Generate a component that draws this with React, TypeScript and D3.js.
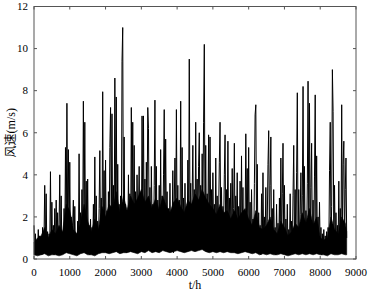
import React from "react";
import * as d3 from "d3";

const xTicks = [0, 1000, 2000, 3000, 4000, 5000, 6000, 7000, 8000, 9000];
const yTicks = [0, 2, 4, 6, 8, 10, 12];
const xLabel = "t/h";
const yLabel = "风速(m/s)";
const stepHours = 20;
const bandStepHours = 100;
const lastHour = 8760;

// wind speed (m/s), one reading every 20 h
const windSpeed = [
  1.6, 0.3, 1.2, 0.2, 0.9, 0.4, 1.4, 0.2, 1.1, 0.3,
  0.8, 0.2, 1.5, 0.4, 1.0, 3.5, 0.6, 3.1, 0.3, 1.3,
  0.2, 1.2, 0.4, 4.15, 0.5, 2.7, 0.3, 1.6, 0.2, 2.4,
  0.3, 2.8, 0.5, 2.2, 0.2, 1.5, 4.0, 0.4, 3.0, 0.3,
  1.2, 0.3, 2.4, 0.6, 5.3, 1.0, 7.4, 1.5, 5.2, 0.8,
  4.6, 0.5, 2.0, 0.3, 1.6, 2.8, 0.4, 2.5, 0.2, 1.2,
  0.3, 1.8, 0.5, 5.0, 0.6, 2.2, 0.3, 3.3, 0.8, 7.5,
  2.0, 6.5, 0.7, 3.7, 0.4, 3.8, 0.3, 1.6, 0.2, 1.9,
  0.4, 1.5, 0.3, 2.6, 0.5, 4.85, 0.6, 3.0, 0.3, 1.8,
  0.5, 2.4, 5.15, 0.7, 2.9, 0.4, 7.95, 1.2, 4.2, 0.5,
  4.7, 0.6, 2.3, 0.3, 3.2, 0.8, 5.3, 7.2, 1.5, 6.9,
  0.6, 3.5, 0.9, 8.6, 2.5, 7.7, 0.8, 4.5, 0.4, 2.6,
  0.5, 3.0, 0.4, 9.4, 11.0, 1.0, 5.8, 0.5, 2.6, 0.3,
  2.3, 0.6, 4.0, 1.2, 3.1, 0.5, 7.2, 2.0, 6.5, 1.0,
  5.4, 0.8, 3.2, 0.4, 4.0, 1.5, 2.4, 4.4, 0.6, 3.0,
  0.7, 6.8, 2.5, 6.8, 1.0, 3.8, 0.5, 4.6, 2.0, 7.2,
  6.2, 0.8, 3.4, 0.5, 4.4, 1.8, 2.6, 0.4, 3.5, 7.55,
  1.5, 4.4, 0.6, 2.8, 1.0, 3.5, 0.4, 5.2, 0.8, 3.0,
  1.2, 4.0, 7.1, 0.9, 5.7, 1.5, 3.2, 0.4, 2.4, 0.7,
  3.6, 0.5, 2.3, 1.2, 4.2, 0.3, 2.7, 4.8, 1.0, 7.1,
  1.5, 3.5, 0.6, 2.8, 1.3, 7.5, 0.8, 5.3, 1.7, 2.9,
  0.4, 3.6, 1.0, 2.2, 0.5, 4.7, 1.2, 9.5, 2.0, 3.6,
  0.7, 2.9, 5.4, 1.1, 3.3, 0.5, 6.5, 1.6, 3.8, 0.6,
  4.4, 6.0, 1.0, 3.5, 0.6, 5.0, 2.2, 6.5, 10.2, 1.4,
  5.4, 0.8, 3.1, 1.6, 5.9, 0.7, 5.8, 2.0, 3.3, 0.5,
  4.1, 1.0, 2.6, 0.4, 4.8, 1.3, 3.0, 0.6, 2.2, 4.6,
  6.5, 1.0, 3.4, 0.5, 2.5, 1.4, 4.0, 5.9, 0.8, 3.3,
  1.2, 5.6, 0.6, 2.9, 1.5, 3.6, 0.4, 4.3, 1.1, 2.4,
  5.5, 0.7, 3.0, 1.3, 4.1, 0.5, 2.5, 1.0, 3.7, 0.6,
  4.9, 1.2, 3.4, 0.4, 2.2, 1.6, 5.95, 2.1, 4.3, 0.5,
  5.3, 0.9, 2.7, 0.4, 3.3, 1.1, 1.9, 0.3, 3.6, 6.85,
  7.33, 1.4, 4.5, 0.3, 2.2, 0.6, 1.6, 0.2, 3.1, 0.5,
  4.1, 0.4, 2.0, 0.8, 3.4, 0.3, 1.8, 4.5, 6.1, 0.9,
  3.5, 5.8, 0.6, 2.4, 0.3, 3.3, 0.5, 1.5, 0.2, 2.6,
  0.4, 1.7, 0.3, 2.9, 0.6, 4.8, 0.4, 3.1, 5.5, 0.8,
  3.5, 0.3, 1.9, 0.5, 2.6, 0.2, 1.4, 0.6, 3.1, 0.3,
  1.8, 0.5, 3.0, 5.4, 0.7, 3.3, 0.4, 4.1, 7.9, 1.0,
  3.3, 0.4, 2.1, 4.1, 0.6, 3.0, 8.2, 1.2, 4.4, 0.5,
  2.3, 0.6, 3.6, 8.45, 1.8, 7.4, 0.7, 3.4, 5.5, 0.5,
  2.8, 0.4, 3.9, 7.8, 0.9, 4.9, 0.3, 2.0, 0.6, 2.7,
  0.3, 1.5, 0.2, 1.2, 0.4, 1.4, 0.2, 1.1, 0.3, 1.3,
  0.2, 1.5, 0.3, 4.2, 6.5, 0.8, 2.5, 9.0, 7.0, 1.0,
  3.5, 0.4, 2.2, 0.3, 1.6, 0.5, 3.7, 0.3, 2.4, 0.6,
  7.33, 1.2, 4.5, 5.6, 0.5, 3.3, 4.8, 1.0,
];

// the dense, solid-black part of the trace: its top and bottom every 100 h
const denseTop = [
  0.8, 1.0, 1.1, 1.5, 1.0, 1.4, 1.2, 1.6, 1.3, 2.6,
  2.3, 1.4, 1.2, 1.7, 2.6, 1.8, 1.3, 1.9, 1.4, 2.5,
  2.0, 2.6, 2.4, 3.2, 2.2, 3.0, 2.3, 3.0, 2.6, 2.9,
  3.3, 2.7, 3.0, 2.4, 2.9, 2.3, 3.0, 2.5, 2.2, 2.7,
  2.9, 2.5, 2.2, 2.8, 2.6, 3.1, 2.8, 3.3, 2.9, 2.6,
  2.4, 2.1, 2.6, 2.2, 2.3, 1.9, 2.3, 1.9, 2.2, 2.4,
  1.9, 1.6, 2.3, 1.5, 1.4, 1.6, 2.0, 1.4, 1.2, 1.8,
  1.5, 1.1, 1.3, 1.7, 1.5, 2.2, 1.7, 2.4, 1.6, 2.0,
  1.0, 0.9, 1.0, 2.0, 1.4, 1.2, 2.0, 1.7, 1.3,
];
const denseBottom = [
  0.2, 0.15, 0.2, 0.25, 0.15, 0.2, 0.2, 0.15, 0.2, 0.3,
  0.25, 0.2, 0.15, 0.25, 0.3, 0.2, 0.2, 0.15, 0.25, 0.3,
  0.3, 0.25, 0.3, 0.35, 0.25, 0.3, 0.3, 0.35, 0.3, 0.25,
  0.35, 0.3, 0.4, 0.3, 0.35, 0.3, 0.4, 0.35, 0.3, 0.35,
  0.4, 0.35, 0.3, 0.35, 0.4, 0.35, 0.4, 0.45, 0.35, 0.3,
  0.35, 0.3, 0.35, 0.3, 0.35, 0.3, 0.3, 0.25, 0.3, 0.35,
  0.3, 0.25, 0.3, 0.2, 0.25, 0.2, 0.25, 0.2, 0.2, 0.25,
  0.2, 0.15, 0.2, 0.25, 0.2, 0.25, 0.2, 0.25, 0.2, 0.25,
  0.2, 0.2, 0.15, 0.25, 0.2, 0.2, 0.25, 0.2, 0.2,
];

export default function App() {
  const W = 369;
  const H = 294;
  const x = d3.scaleLinear().domain([0, 9000]).range([34, 356]);
  const y = d3.scaleLinear().domain([0, 12]).range([259, 6.5]);
  const line = d3
    .line<number>()
    .x((_, i) => x(i * stepHours))
    .y((d) => y(d));
  const bandX = (i: number) => x(Math.min(i * bandStepHours, lastHour - stepHours));
  const area = d3
    .area<number>()
    .x((_, i) => bandX(i))
    .y0((_, i) => y(denseBottom[i]))
    .y1((d) => y(d));
  const [x0, x1] = x.range();
  const [y0, y1] = y.range();
  const tickLen = 3;
  const frame = "#555";
  const font = "'Liberation Serif', 'Times New Roman', serif";

  return (
    <svg
      width={W}
      height={H}
      style={{ position: "absolute", left: 0, top: 0, background: "#fff" }}
    >
      <rect x={0} y={0} width={W} height={H} fill="#fff" />
      <path d={area(denseTop) || ""} fill="#000" stroke="#000" strokeWidth={0.6} />
      <path d={line(windSpeed) || ""} fill="none" stroke="#000" strokeWidth={1} />
      <rect
        x={x0}
        y={y1}
        width={x1 - x0}
        height={y0 - y1}
        fill="none"
        stroke={frame}
        strokeWidth={1}
      />
      {xTicks.map((t) => (
        <g key={"x" + t}>
          <line x1={x(t)} x2={x(t)} y1={y0} y2={y0 - tickLen} stroke={frame} />
          <line x1={x(t)} x2={x(t)} y1={y1} y2={y1 + tickLen} stroke={frame} />
          <text
            x={x(t)}
            y={276}
            textAnchor="middle"
            fontFamily={font}
            fontSize={11}
            fill="#000"
          >
            {t}
          </text>
        </g>
      ))}
      {yTicks.map((v) => (
        <g key={"y" + v}>
          <line x1={x0} x2={x0 + tickLen} y1={y(v)} y2={y(v)} stroke={frame} />
          <line x1={x1} x2={x1 - tickLen} y1={y(v)} y2={y(v)} stroke={frame} />
          <text
            x={28}
            y={y(v) + 3.8}
            textAnchor="end"
            fontFamily={font}
            fontSize={11}
            fill="#000"
          >
            {v}
          </text>
        </g>
      ))}
      <text
        x={(x0 + x1) / 2}
        y={289}
        textAnchor="middle"
        fontFamily={font}
        fontSize={12}
        fill="#000"
      >
        {xLabel}
      </text>
      <text
        transform={`translate(15, ${(y0 + y1) / 2}) rotate(-90)`}
        textAnchor="middle"
        fontFamily={`${font}, 'Noto Sans CJK SC'`}
        fontSize={12}
        fill="#000"
      >
        {yLabel}
      </text>
    </svg>
  );
}
